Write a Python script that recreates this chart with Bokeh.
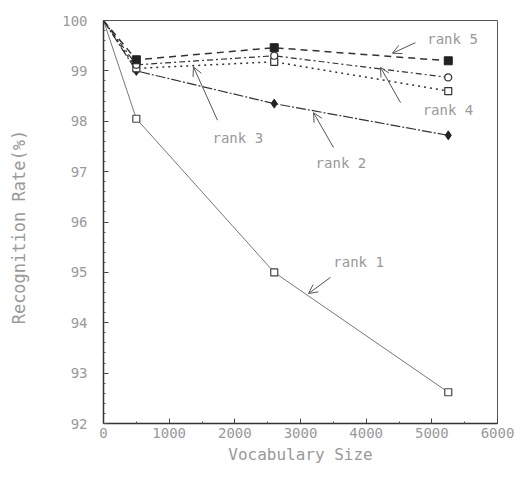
from bokeh.plotting import figure
from bokeh.models import Label, Arrow, OpenHead, FixedTicker
from bokeh.embed import file_html
from bokeh.resources import INLINE

# ---- data ----
vocab = [0, 500, 2600, 5250]
rank1 = [100, 98.05, 95.0, 92.62]
rank2 = [100, 99.0, 98.35, 97.72]
rank3 = [100, 99.05, 99.18, 98.6]
rank4 = [100, 99.12, 99.3, 98.87]
rank5 = [100, 99.22, 99.46, 99.2]
series_names = ["rank 1", "rank 2", "rank 3", "rank 4", "rank 5"]
x_ticks = [0, 1000, 2000, 3000, 4000, 5000, 6000]
y_ticks = [92, 93, 94, 95, 96, 97, 98, 99, 100]

TXT = "#999999"
FONT = "DejaVu Sans Mono"

p = figure(width=516, height=467, output_backend="svg", toolbar_location=None,
           x_range=(0, 6000), y_range=(92, 100),
           min_border_left=103, min_border_right=19, min_border_top=20, min_border_bottom=44)
p.grid.visible = False
p.background_fill_color = "white"
p.border_fill_color = "white"
p.outline_line_color = "#555555"
p.outline_line_width = 1

# axes
p.xaxis.ticker = FixedTicker(ticks=x_ticks, minor_ticks=[500, 1500, 2500, 3500, 4500, 5500])
p.yaxis.ticker = FixedTicker(ticks=y_ticks, minor_ticks=[92 + i * 0.2 for i in range(41)])
for ax in (p.xaxis[0], p.yaxis[0]):
    ax.axis_line_color = "#333333"
    ax.axis_line_width = 1.5
    ax.major_tick_in = 5
    ax.major_tick_out = 0
    ax.minor_tick_in = 2
    ax.minor_tick_out = 0
    ax.major_tick_line_color = "#444444"
    ax.minor_tick_line_color = "#555555"
    ax.major_label_text_color = TXT
    ax.major_label_text_font = FONT
    ax.axis_label_text_color = TXT
    ax.axis_label_text_font = FONT
    ax.axis_label_text_font_style = "normal"
p.xaxis.major_label_text_font_size = "14px"
p.yaxis.major_label_text_font_size = "14px"
p.xaxis.axis_label = "Vocabulary Size"
p.yaxis.axis_label = "Recognition  Rate(%)"
p.xaxis.axis_label_text_font_size = "16px"
p.yaxis.axis_label_text_font_size = "17px"
p.xaxis.major_label_standoff = 4
p.xaxis.axis_label_standoff = 4
p.yaxis.major_label_standoff = 16
p.yaxis.axis_label_standoff = 30

# series
p.line(vocab, rank1, line_color="#777777", line_width=1)
p.line(vocab, rank2, line_color="#333333", line_width=1.2, line_dash="10 2 2 2")
p.line(vocab, rank3, line_color="#333333", line_width=1.5, line_dash="2 4")
p.line(vocab, rank4, line_color="#333333", line_width=1.2, line_dash="6 3 2 3")
p.line(vocab, rank5, line_color="#333333", line_width=1.5, line_dash="7 5")

p.scatter(vocab[1:], rank1[1:], marker="square", size=7, fill_color="white", line_color="#444444", line_width=1.2)
p.scatter(vocab[1:], rank2[1:], marker="diamond", size=9, fill_color="#222222", line_color="#222222")
p.scatter(vocab[1:], rank3[1:], marker="square", size=7, fill_color="white", line_color="#333333", line_width=1.2)
p.scatter(vocab[1:], rank4[1:], marker="circle", size=7, fill_color="white", line_color="#333333", line_width=1.2)
p.scatter(vocab[1:], rank5[1:], marker="square", size=8, fill_color="#222222", line_color="#222222")

# annotations: label position, arrow tail, arrow tip (data coordinates)
notes = [
    (series_names[0], 3500, 95.2, (3457, 94.9), (3122, 94.58)),
    (series_names[1], 3230, 97.18, (3502, 97.48), (3198, 98.17)),
    (series_names[2], 1660, 97.66, (1736, 98.02), (1370, 99.08)),
    (series_names[3], 4860, 98.23, (4523, 98.37), (4218, 99.07)),
    (series_names[4], 4930, 99.64, (4750, 99.56), (4400, 99.35)),
]
for name, lx, ly, tail, tip in notes:
    p.add_layout(Label(x=lx, y=ly, text=name, text_font=FONT, text_font_size="14px",
                       text_color=TXT, text_baseline="middle", text_align="left"))
    p.add_layout(Arrow(x_start=tail[0], y_start=tail[1], x_end=tip[0], y_end=tip[1],
                       line_color="#555555", line_width=1,
                       end=OpenHead(size=9, line_color="#555555", line_width=1)))

open("out.html", "w").write(file_html(p, INLINE))
